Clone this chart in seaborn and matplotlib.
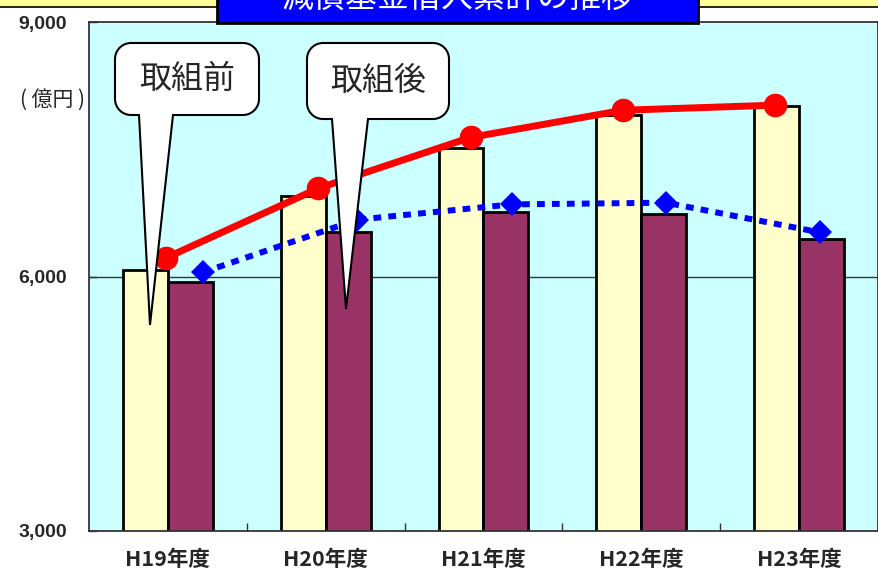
import numpy as np
import pandas as pd
import matplotlib
matplotlib.use("Agg")
import matplotlib.pyplot as plt
import seaborn as sns
from matplotlib.path import Path
from matplotlib.patches import PathPatch, Rectangle
from matplotlib.transforms import Affine2D

# ---- data (億円) ----
years = ["H19年度", "H20年度", "H21年度", "H22年度", "H23年度"]
series_names = ["取組前", "取組後"]
before_bars = [6080, 6950, 7520, 7900, 8010]
after_bars = [5930, 6520, 6760, 6740, 6440]
before_line = [6220, 7040, 7640, 7960, 8020]
after_line = [6050, 6670, 6850, 6870, 6520]
y_ticks = [3000, 6000, 9000]
y_tick_labels = ["3,000", "6,000", "9,000"]
title_text = "減債基金借入累計の推移"
unit_text = "( 億円 )"

W, H = 879, 572
sns.set_theme(style="white")
plt.rcParams["font.family"] = ["Noto Sans CJK JP", "DejaVu Sans"]

fig = plt.figure(figsize=(W / 100, H / 100), dpi=100)
fig.patch.set_facecolor("white")

# pixel-based transform (origin top-left) for decorations
px = Affine2D().scale(1 / W, -1 / H).translate(0, 1) + fig.transFigure

ax = fig.add_axes([89 / W, 1 - 531 / H, (878 - 89) / W, (531 - 22) / H])
ax.set_facecolor("#CCFFFF")

df = pd.DataFrame({
    "year": years * 2,
    "value": before_bars + after_bars,
    "series": [series_names[0]] * len(years) + [series_names[1]] * len(years),
})
sns.barplot(data=df, x="year", y="value", hue="series", order=years,
            hue_order=series_names, palette=["#FFFFCC", "#993366"],
            saturation=1, width=0.57, edgecolor="black", linewidth=2,
            errorbar=None, legend=False, ax=ax, zorder=2)

idx = np.arange(len(years))
red_x = -0.011 + idx * 0.965
blue_x = 0.223 + idx * 0.9775
sns.lineplot(x=red_x, y=before_line, color="#FF0000", lw=5, marker="o",
             markersize=17, markeredgewidth=0, sort=False, ax=ax, zorder=4)
sns.lineplot(x=blue_x, y=after_line, color="#0000FF", lw=4.3, marker="D",
             markersize=12.5, markeredgewidth=0, linestyle=(0, (1.3, 1.2)),
             dash_capstyle="butt", sort=False, ax=ax, zorder=4)

ax.axhline(6000, color="#333333", lw=1, zorder=1)
ax.set_xlim(-0.5, len(years) - 0.5)
ax.set_ylim(3000, 9000)
ax.set_yticks(y_ticks)
ax.set_yticklabels(y_tick_labels, fontsize=14, fontweight="bold",
                   family=["Liberation Sans"])
ax.tick_params(axis="y", direction="in", length=6, width=1, color="#333333",
               pad=16, left=True)
ax.set_xticks(idx)
ax.set_xticklabels(years, fontsize=15.5, fontweight="bold")
ax.tick_params(axis="x", which="major", length=0, pad=13)
ax.set_xticks(idx[:-1] + 0.5, minor=True)
ax.tick_params(axis="x", which="minor", direction="in", length=6, width=1,
               color="#333333", bottom=True)
ax.set_xlabel("")
ax.set_ylabel("")
for s in ax.spines.values():
    s.set_visible(True)
    s.set_color("#333333")
    s.set_linewidth(1.3)

# outer frame strip and title box
fig.add_artist(Rectangle((-5, -6), W + 10, 12.5, transform=px,
                         facecolor="#FFFF99", edgecolor="black", lw=1.2, zorder=1))
fig.add_artist(Rectangle((217, -10), 481, 32.5, transform=px,
                         facecolor="#0000FF", edgecolor="black", lw=2, zorder=5))
fig.text(457.5 / W, 1 - 6.5 / H, title_text, ha="center", va="baseline",
         color="white", fontsize=23, zorder=6)

fig.text(53 / W, 1 - 100 / H, unit_text, ha="center", va="center", fontsize=15)


def bubble_path(x0, y0, x1, y1, r, t0, t1, tip):
    k = 0.5523 * r
    verts, codes = [], []

    def mv(p):
        verts.append(p); codes.append(Path.MOVETO)

    def ln(p):
        verts.append(p); codes.append(Path.LINETO)

    def cv(c1, c2, p):
        verts.extend([c1, c2, p]); codes.extend([Path.CURVE4] * 3)

    mv((x0 + r, y0))
    ln((x1 - r, y0))
    cv((x1 - r + k, y0), (x1, y0 + r - k), (x1, y0 + r))
    ln((x1, y1 - r))
    cv((x1, y1 - r + k), (x1 - r + k, y1), (x1 - r, y1))
    ln((t1, y1))
    ln(tip)
    ln((t0, y1))
    ln((x0 + r, y1))
    cv((x0 + r - k, y1), (x0, y1 - r + k), (x0, y1 - r))
    ln((x0, y0 + r))
    cv((x0, y0 + r - k), (x0 + r - k, y0), (x0 + r, y0))
    verts.append((x0 + r, y0)); codes.append(Path.CLOSEPOLY)
    return Path(verts, codes)


callouts = [
    (series_names[0], (115, 43, 259, 115), (139, 173), (150, 325)),
    (series_names[1], (307, 43, 449, 119), (332, 368), (346, 309)),
]
for label, (x0, y0, x1, y1), (t0, t1), tip in callouts:
    fig.add_artist(PathPatch(bubble_path(x0, y0, x1, y1, 16, t0, t1, tip),
                             transform=px, facecolor="white", edgecolor="black",
                             lw=1.5, zorder=10))
    fig.text((x0 + x1) / 2 / W, 1 - (y0 + y1) / 2 / H, label, ha="center",
             va="center", fontsize=23, zorder=11)

fig.savefig("out.png", dpi=100)
